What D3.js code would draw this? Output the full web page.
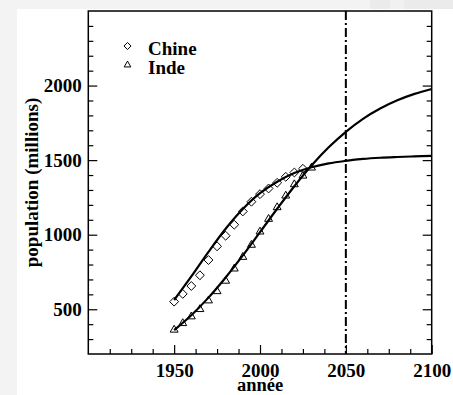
<!DOCTYPE html>
<html>
<head>
<meta charset="utf-8">
<script src="https://cdn.jsdelivr.net/npm/d3@7/dist/d3.min.js"></script>
<style>
  html, body { margin: 0; padding: 0; background: #f3f3f3; }
  svg { display: block; }
  text { font-family: "Liberation Serif", "Times New Roman", serif; font-weight: bold; fill: #000; }
</style>
</head>
<body>
<svg id="chart" width="453" height="395"></svg>
<script>
// Observed population (millions), every 5 years
const obsYears = [1950,1955,1960,1965,1970,1975,1980,1985,1990,1995,2000,2005,2010,2015,2020,2025];
const chinaObs = [551,603,656,728,830,922,993,1067,1156,1221,1272,1310,1348,1388,1417,1442];
const indiaYears = [1950,1955,1960,1965,1970,1975,1980,1985,1990,1995,2000,2005,2010,2015,2020,2025,2030];
const indiaObs = [362,406,451,500,558,620,690,772,850,931,1020,1105,1183,1261,1337,1395,1449];

// Fitted trend curves, sampled every 10 years
const fitYears = [1950,1960,1970,1980,1990,2000,2010,2020,2030,2040,2050,2060,2070,2080,2090,2100];
const chinaFit = [562,720,885,1040,1172,1278,1355,1413,1452,1478,1495,1508,1516,1521,1525,1528];
const indiaFit = [360,460,578,713,861,1017,1174,1325,1464,1586,1690,1777,1846,1901,1944,1977];

// Axes and annotations
const xMajor = [1950,2000,2050,2100];
const xMinor = [1912.5,1925,1937.5,1962.5,1975,1987.5,2012.5,2025,2037.5,2062.5,2075,2087.5];
const yMajor = [500,1000,1500,2000];
const yMinor = [300,400,600,700,800,900,1100,1200,1300,1400,1600,1700,1800,1900,2100,2200,2300,2400];
const refYears = [2050];
const legendNames = ["Chine","Inde"];
const xTitle = "année";
const yTitle = "population (millions)";

const svg = d3.select("#chart");

// page backdrop
svg.append("rect").attr("x",0).attr("y",0).attr("width",453).attr("height",395).attr("fill","#f3f3f3");
svg.append("rect").attr("x",370).attr("y",0).attr("width",83).attr("height",9).attr("fill","#ebebeb");
svg.append("rect").attr("x",390).attr("y",0).attr("width",14).attr("height",9).attr("fill","#f1f1f1");
svg.append("rect").attr("x",17).attr("y",9).attr("width",436).attr("height",386).attr("fill","#ffffff");

const L = 88.3, R = 431.7, T = 11, B = 354;
const x = d3.scaleLinear().domain([1900,2100]).range([L,R]);
const y = d3.scaleLinear().domain([200,2500]).range([B,T]);

// inward ticks
function styleAxis(g) {
  g.select(".domain").remove();
  g.selectAll("line").attr("stroke","#000").attr("stroke-width",1.2);
}
const fontSize = 19;

svg.append("g").attr("transform",`translate(0,${B})`)
  .call(d3.axisBottom(x).tickValues(xMinor).tickSize(-5).tickFormat(""))
  .call(styleAxis);
const xa = svg.append("g").attr("transform",`translate(0,${B})`)
  .call(d3.axisBottom(x).tickValues(xMajor).tickSize(-9).tickPadding(9.5).tickFormat(d3.format("d")))
  .call(styleAxis);
xa.selectAll("text").attr("font-size",fontSize).attr("font-family",null);

svg.append("g").attr("transform",`translate(${L},0)`)
  .call(d3.axisLeft(y).tickValues(yMinor).tickSize(-5).tickFormat(""))
  .call(styleAxis);
const ya = svg.append("g").attr("transform",`translate(${L},0)`)
  .call(d3.axisLeft(y).tickValues(yMajor).tickSize(-9).tickPadding(6.5).tickFormat(d3.format("d")))
  .call(styleAxis);
ya.selectAll("text").attr("font-size",fontSize).attr("font-family",null);

svg.append("g").attr("transform",`translate(${R},0)`)
  .call(d3.axisRight(y).tickValues(yMinor).tickSize(-5).tickFormat(""))
  .call(styleAxis);
svg.append("g").attr("transform",`translate(${R},0)`)
  .call(d3.axisRight(y).tickValues(yMajor).tickSize(-9).tickFormat(""))
  .call(styleAxis);

// axis titles
svg.append("text").attr("x",x(2000)).attr("y",391).attr("text-anchor","middle")
  .attr("font-size",18.5).text(xTitle);
svg.append("text").attr("transform",`translate(38,${(T+B)/2}) rotate(-90)`)
  .attr("text-anchor","middle").attr("font-size",fontSize).text(yTitle);

// clip for curves
svg.append("clipPath").attr("id","plotclip").append("rect")
  .attr("x",L).attr("y",T).attr("width",R-L).attr("height",B-T);

// fitted curves
const line = d3.line().x(d => x(d[0])).y(d => y(d[1])).curve(d3.curveCatmullRom.alpha(0.5));
const curves = svg.append("g").attr("clip-path","url(#plotclip)");
[chinaFit, indiaFit].forEach(vals => {
  curves.append("path")
    .attr("d", line(fitYears.map((yr,i) => [yr, vals[i]])))
    .attr("fill","none").attr("stroke","#000").attr("stroke-width",2.2);
});

// reference year
svg.selectAll(".ref").data(refYears).enter().append("line")
  .attr("x1",d => x(d)).attr("x2",d => x(d)).attr("y1",T).attr("y2",B)
  .attr("stroke","#000").attr("stroke-width",2).attr("stroke-dasharray","9,3,2,3");

// markers
const diamond = d3.symbol().type(d3.symbolDiamond2).size(50);
const triangle = d3.symbol().type(d3.symbolTriangle2).size(45);

svg.append("g").selectAll("path").data(obsYears).enter().append("path")
  .attr("d", diamond())
  .attr("transform",(d,i) => `translate(${x(d)},${y(chinaObs[i])})`)
  .attr("fill","none").attr("stroke","#000").attr("stroke-width",1);

svg.append("g").selectAll("path").data(indiaYears).enter().append("path")
  .attr("d", triangle())
  .attr("transform",(d,i) => `translate(${x(d)},${y(indiaObs[i])})`)
  .attr("fill","none").attr("stroke","#000").attr("stroke-width",1);

// legend
const legend = svg.append("g");
const legendSyms = [d3.symbol().type(d3.symbolDiamond2).size(32)(), d3.symbol().type(d3.symbolTriangle2).size(32)()];
legendNames.forEach((name,i) => {
  legend.append("path").attr("d",legendSyms[i])
    .attr("transform",`translate(127.5,${46 + i*19})`)
    .attr("fill","none").attr("stroke","#000").attr("stroke-width",1);
  legend.append("text").attr("x",148).attr("y",55 + i*19).attr("font-size",fontSize).text(name);
});

// frame
svg.append("rect").attr("x",L).attr("y",T).attr("width",R-L).attr("height",B-T)
  .attr("fill","none").attr("stroke","#000").attr("stroke-width",1.5);
</script>
</body>
</html>
